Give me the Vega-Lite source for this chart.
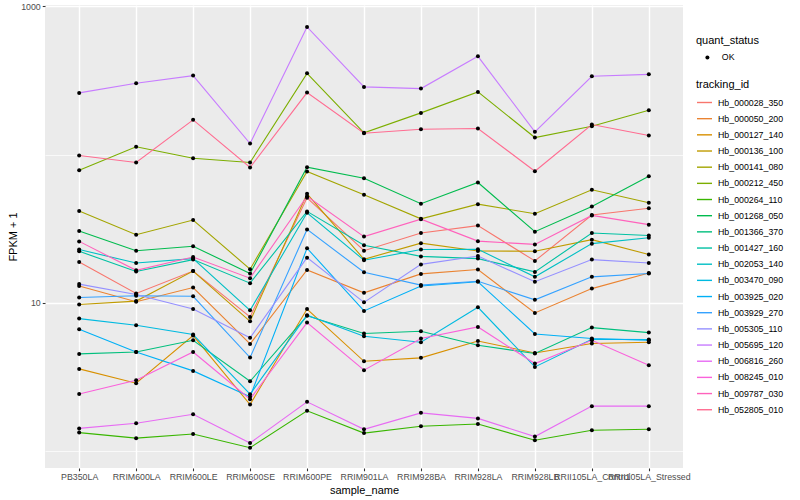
{
"$schema": "https://vega.github.io/schema/vega-lite/v6.json",
"width": 638, "height": 463,
"autosize": "none",
"padding": {"left": 45, "top": 5, "right": 117, "bottom": 32},
"background": "white",
"config": {
  "font": "Liberation Sans",
  "view": {"fill": "#EBEBEB", "stroke": null},
  "axis": {"domain": false, "grid": true, "gridColor": "white", "gridWidth": 1.4, "tickColor": "#333333", "tickSize": 2.75, "tickWidth": 1.07, "labelFontSize": 8.8, "labelColor": "#4D4D4D", "titleFontSize": 11, "titleFontWeight": "normal", "titleColor": "black"},
  "legend": {"titleFontSize": 11, "titleFontWeight": "normal", "titleColor": "black", "labelFontSize": 8.8, "labelColor": "black", "padding": 0}
},
"data": {"values": [
{"tracking_id":"Hb_000028_350","sample_name":"PB350LA","fpkm":18.9},{"tracking_id":"Hb_000028_350","sample_name":"RRIM600LA","fpkm":11.6},{"tracking_id":"Hb_000028_350","sample_name":"RRIM600LE","fpkm":16.4},{"tracking_id":"Hb_000028_350","sample_name":"RRIM600SE","fpkm":8.05},{"tracking_id":"Hb_000028_350","sample_name":"RRIM600PE","fpkm":51.1},{"tracking_id":"Hb_000028_350","sample_name":"RRIM901LA","fpkm":22.5},{"tracking_id":"Hb_000028_350","sample_name":"RRIM928BA","fpkm":29.6},{"tracking_id":"Hb_000028_350","sample_name":"RRIM928LA","fpkm":33.2},{"tracking_id":"Hb_000028_350","sample_name":"RRIM928LB","fpkm":19.2},{"tracking_id":"Hb_000028_350","sample_name":"RRII105LA_Control","fpkm":39.1},{"tracking_id":"Hb_000028_350","sample_name":"RRII105LA_Stressed","fpkm":43.5},
{"tracking_id":"Hb_000050_200","sample_name":"PB350LA","fpkm":13.0},{"tracking_id":"Hb_000050_200","sample_name":"RRIM600LA","fpkm":10.2},{"tracking_id":"Hb_000050_200","sample_name":"RRIM600LE","fpkm":12.7},{"tracking_id":"Hb_000050_200","sample_name":"RRIM600SE","fpkm":5.30},{"tracking_id":"Hb_000050_200","sample_name":"RRIM600PE","fpkm":16.7},{"tracking_id":"Hb_000050_200","sample_name":"RRIM901LA","fpkm":11.7},{"tracking_id":"Hb_000050_200","sample_name":"RRIM928BA","fpkm":15.7},{"tracking_id":"Hb_000050_200","sample_name":"RRIM928LA","fpkm":16.8},{"tracking_id":"Hb_000050_200","sample_name":"RRIM928LB","fpkm":8.57},{"tracking_id":"Hb_000050_200","sample_name":"RRII105LA_Control","fpkm":12.5},{"tracking_id":"Hb_000050_200","sample_name":"RRII105LA_Stressed","fpkm":15.9},
{"tracking_id":"Hb_000127_140","sample_name":"PB350LA","fpkm":3.60},{"tracking_id":"Hb_000127_140","sample_name":"RRIM600LA","fpkm":2.88},{"tracking_id":"Hb_000127_140","sample_name":"RRIM600LE","fpkm":6.03},{"tracking_id":"Hb_000127_140","sample_name":"RRIM600SE","fpkm":2.07},{"tracking_id":"Hb_000127_140","sample_name":"RRIM600PE","fpkm":9.11},{"tracking_id":"Hb_000127_140","sample_name":"RRIM901LA","fpkm":4.05},{"tracking_id":"Hb_000127_140","sample_name":"RRIM928BA","fpkm":4.27},{"tracking_id":"Hb_000127_140","sample_name":"RRIM928LA","fpkm":5.55},{"tracking_id":"Hb_000127_140","sample_name":"RRIM928LB","fpkm":4.61},{"tracking_id":"Hb_000127_140","sample_name":"RRII105LA_Control","fpkm":5.33},{"tracking_id":"Hb_000127_140","sample_name":"RRII105LA_Stressed","fpkm":5.44},
{"tracking_id":"Hb_000136_100","sample_name":"PB350LA","fpkm":9.76},{"tracking_id":"Hb_000136_100","sample_name":"RRIM600LA","fpkm":10.3},{"tracking_id":"Hb_000136_100","sample_name":"RRIM600LE","fpkm":16.4},{"tracking_id":"Hb_000136_100","sample_name":"RRIM600SE","fpkm":7.53},{"tracking_id":"Hb_000136_100","sample_name":"RRIM600PE","fpkm":54.4},{"tracking_id":"Hb_000136_100","sample_name":"RRIM901LA","fpkm":19.7},{"tracking_id":"Hb_000136_100","sample_name":"RRIM928BA","fpkm":25.3},{"tracking_id":"Hb_000136_100","sample_name":"RRIM928LA","fpkm":22.4},{"tracking_id":"Hb_000136_100","sample_name":"RRIM928LB","fpkm":22.3},{"tracking_id":"Hb_000136_100","sample_name":"RRII105LA_Control","fpkm":26.7},{"tracking_id":"Hb_000136_100","sample_name":"RRII105LA_Stressed","fpkm":21.2},
{"tracking_id":"Hb_000141_080","sample_name":"PB350LA","fpkm":41.6},{"tracking_id":"Hb_000141_080","sample_name":"RRIM600LA","fpkm":28.8},{"tracking_id":"Hb_000141_080","sample_name":"RRIM600LE","fpkm":36.2},{"tracking_id":"Hb_000141_080","sample_name":"RRIM600SE","fpkm":16.9},{"tracking_id":"Hb_000141_080","sample_name":"RRIM600PE","fpkm":76.9},{"tracking_id":"Hb_000141_080","sample_name":"RRIM901LA","fpkm":53.6},{"tracking_id":"Hb_000141_080","sample_name":"RRIM928BA","fpkm":36.9},{"tracking_id":"Hb_000141_080","sample_name":"RRIM928LA","fpkm":46.3},{"tracking_id":"Hb_000141_080","sample_name":"RRIM928LB","fpkm":39.9},{"tracking_id":"Hb_000141_080","sample_name":"RRII105LA_Control","fpkm":57.9},{"tracking_id":"Hb_000141_080","sample_name":"RRII105LA_Stressed","fpkm":47.3},
{"tracking_id":"Hb_000212_450","sample_name":"PB350LA","fpkm":78.4},{"tracking_id":"Hb_000212_450","sample_name":"RRIM600LA","fpkm":112.7},{"tracking_id":"Hb_000212_450","sample_name":"RRIM600LE","fpkm":94.4},{"tracking_id":"Hb_000212_450","sample_name":"RRIM600SE","fpkm":88.4},{"tracking_id":"Hb_000212_450","sample_name":"RRIM600PE","fpkm":352.1},{"tracking_id":"Hb_000212_450","sample_name":"RRIM901LA","fpkm":139.9},{"tracking_id":"Hb_000212_450","sample_name":"RRIM928BA","fpkm":190.7},{"tracking_id":"Hb_000212_450","sample_name":"RRIM928LA","fpkm":264.1},{"tracking_id":"Hb_000212_450","sample_name":"RRIM928LB","fpkm":130.1},{"tracking_id":"Hb_000212_450","sample_name":"RRII105LA_Control","fpkm":155.0},{"tracking_id":"Hb_000212_450","sample_name":"RRII105LA_Stressed","fpkm":198.6},
{"tracking_id":"Hb_000264_110","sample_name":"PB350LA","fpkm":1.34},{"tracking_id":"Hb_000264_110","sample_name":"RRIM600LA","fpkm":1.23},{"tracking_id":"Hb_000264_110","sample_name":"RRIM600LE","fpkm":1.31},{"tracking_id":"Hb_000264_110","sample_name":"RRIM600SE","fpkm":1.06},{"tracking_id":"Hb_000264_110","sample_name":"RRIM600PE","fpkm":1.88},{"tracking_id":"Hb_000264_110","sample_name":"RRIM901LA","fpkm":1.33},{"tracking_id":"Hb_000264_110","sample_name":"RRIM928BA","fpkm":1.48},{"tracking_id":"Hb_000264_110","sample_name":"RRIM928LA","fpkm":1.53},{"tracking_id":"Hb_000264_110","sample_name":"RRIM928LB","fpkm":1.19},{"tracking_id":"Hb_000264_110","sample_name":"RRII105LA_Control","fpkm":1.39},{"tracking_id":"Hb_000264_110","sample_name":"RRII105LA_Stressed","fpkm":1.41},
{"tracking_id":"Hb_001268_050","sample_name":"PB350LA","fpkm":30.5},{"tracking_id":"Hb_001268_050","sample_name":"RRIM600LA","fpkm":22.5},{"tracking_id":"Hb_001268_050","sample_name":"RRIM600LE","fpkm":24.1},{"tracking_id":"Hb_001268_050","sample_name":"RRIM600SE","fpkm":15.8},{"tracking_id":"Hb_001268_050","sample_name":"RRIM600PE","fpkm":82.2},{"tracking_id":"Hb_001268_050","sample_name":"RRIM901LA","fpkm":69.3},{"tracking_id":"Hb_001268_050","sample_name":"RRIM928BA","fpkm":46.6},{"tracking_id":"Hb_001268_050","sample_name":"RRIM928LA","fpkm":64.8},{"tracking_id":"Hb_001268_050","sample_name":"RRIM928LB","fpkm":30.2},{"tracking_id":"Hb_001268_050","sample_name":"RRII105LA_Control","fpkm":44.7},{"tracking_id":"Hb_001268_050","sample_name":"RRII105LA_Stressed","fpkm":71.5},
{"tracking_id":"Hb_001366_370","sample_name":"PB350LA","fpkm":4.54},{"tracking_id":"Hb_001366_370","sample_name":"RRIM600LA","fpkm":4.68},{"tracking_id":"Hb_001366_370","sample_name":"RRIM600LE","fpkm":5.61},{"tracking_id":"Hb_001366_370","sample_name":"RRIM600SE","fpkm":2.97},{"tracking_id":"Hb_001366_370","sample_name":"RRIM600PE","fpkm":8.20},{"tracking_id":"Hb_001366_370","sample_name":"RRIM901LA","fpkm":6.23},{"tracking_id":"Hb_001366_370","sample_name":"RRIM928BA","fpkm":6.45},{"tracking_id":"Hb_001366_370","sample_name":"RRIM928LA","fpkm":5.19},{"tracking_id":"Hb_001366_370","sample_name":"RRIM928LB","fpkm":4.57},{"tracking_id":"Hb_001366_370","sample_name":"RRII105LA_Control","fpkm":6.83},{"tracking_id":"Hb_001366_370","sample_name":"RRII105LA_Stressed","fpkm":6.32},
{"tracking_id":"Hb_001427_160","sample_name":"PB350LA","fpkm":22.3},{"tracking_id":"Hb_001427_160","sample_name":"RRIM600LA","fpkm":16.3},{"tracking_id":"Hb_001427_160","sample_name":"RRIM600LE","fpkm":19.6},{"tracking_id":"Hb_001427_160","sample_name":"RRIM600SE","fpkm":13.6},{"tracking_id":"Hb_001427_160","sample_name":"RRIM600PE","fpkm":41.4},{"tracking_id":"Hb_001427_160","sample_name":"RRIM901LA","fpkm":24.5},{"tracking_id":"Hb_001427_160","sample_name":"RRIM928BA","fpkm":20.6},{"tracking_id":"Hb_001427_160","sample_name":"RRIM928LA","fpkm":19.9},{"tracking_id":"Hb_001427_160","sample_name":"RRIM928LB","fpkm":16.2},{"tracking_id":"Hb_001427_160","sample_name":"RRII105LA_Control","fpkm":29.6},{"tracking_id":"Hb_001427_160","sample_name":"RRII105LA_Stressed","fpkm":28.5},
{"tracking_id":"Hb_002053_140","sample_name":"PB350LA","fpkm":22.9},{"tracking_id":"Hb_002053_140","sample_name":"RRIM600LA","fpkm":18.6},{"tracking_id":"Hb_002053_140","sample_name":"RRIM600LE","fpkm":19.9},{"tracking_id":"Hb_002053_140","sample_name":"RRIM600SE","fpkm":8.93},{"tracking_id":"Hb_002053_140","sample_name":"RRIM600PE","fpkm":40.5},{"tracking_id":"Hb_002053_140","sample_name":"RRIM901LA","fpkm":19.4},{"tracking_id":"Hb_002053_140","sample_name":"RRIM928BA","fpkm":22.9},{"tracking_id":"Hb_002053_140","sample_name":"RRIM928LA","fpkm":23.0},{"tracking_id":"Hb_002053_140","sample_name":"RRIM928LB","fpkm":15.0},{"tracking_id":"Hb_002053_140","sample_name":"RRII105LA_Control","fpkm":25.1},{"tracking_id":"Hb_002053_140","sample_name":"RRII105LA_Stressed","fpkm":27.5},
{"tracking_id":"Hb_003470_090","sample_name":"PB350LA","fpkm":7.85},{"tracking_id":"Hb_003470_090","sample_name":"RRIM600LA","fpkm":7.08},{"tracking_id":"Hb_003470_090","sample_name":"RRIM600LE","fpkm":6.13},{"tracking_id":"Hb_003470_090","sample_name":"RRIM600SE","fpkm":2.43},{"tracking_id":"Hb_003470_090","sample_name":"RRIM600PE","fpkm":8.27},{"tracking_id":"Hb_003470_090","sample_name":"RRIM901LA","fpkm":5.97},{"tracking_id":"Hb_003470_090","sample_name":"RRIM928BA","fpkm":5.44},{"tracking_id":"Hb_003470_090","sample_name":"RRIM928LA","fpkm":9.36},{"tracking_id":"Hb_003470_090","sample_name":"RRIM928LB","fpkm":3.71},{"tracking_id":"Hb_003470_090","sample_name":"RRII105LA_Control","fpkm":5.70},{"tracking_id":"Hb_003470_090","sample_name":"RRII105LA_Stressed","fpkm":5.67},
{"tracking_id":"Hb_003925_020","sample_name":"PB350LA","fpkm":6.65},{"tracking_id":"Hb_003925_020","sample_name":"RRIM600LA","fpkm":4.68},{"tracking_id":"Hb_003925_020","sample_name":"RRIM600LE","fpkm":3.49},{"tracking_id":"Hb_003925_020","sample_name":"RRIM600SE","fpkm":2.34},{"tracking_id":"Hb_003925_020","sample_name":"RRIM600PE","fpkm":23.4},{"tracking_id":"Hb_003925_020","sample_name":"RRIM901LA","fpkm":8.84},{"tracking_id":"Hb_003925_020","sample_name":"RRIM928BA","fpkm":13.0},{"tracking_id":"Hb_003925_020","sample_name":"RRIM928LA","fpkm":13.9},{"tracking_id":"Hb_003925_020","sample_name":"RRIM928LB","fpkm":6.19},{"tracking_id":"Hb_003925_020","sample_name":"RRII105LA_Control","fpkm":5.76},{"tracking_id":"Hb_003925_020","sample_name":"RRII105LA_Stressed","fpkm":5.61},
{"tracking_id":"Hb_003929_270","sample_name":"PB350LA","fpkm":10.9},{"tracking_id":"Hb_003929_270","sample_name":"RRIM600LA","fpkm":11.2},{"tracking_id":"Hb_003929_270","sample_name":"RRIM600LE","fpkm":11.1},{"tracking_id":"Hb_003929_270","sample_name":"RRIM600SE","fpkm":4.29},{"tracking_id":"Hb_003929_270","sample_name":"RRIM600PE","fpkm":31.3},{"tracking_id":"Hb_003929_270","sample_name":"RRIM901LA","fpkm":16.1},{"tracking_id":"Hb_003929_270","sample_name":"RRIM928BA","fpkm":13.2},{"tracking_id":"Hb_003929_270","sample_name":"RRIM928LA","fpkm":14.0},{"tracking_id":"Hb_003929_270","sample_name":"RRIM928LB","fpkm":10.5},{"tracking_id":"Hb_003929_270","sample_name":"RRII105LA_Control","fpkm":15.0},{"tracking_id":"Hb_003929_270","sample_name":"RRII105LA_Stressed","fpkm":15.8},
{"tracking_id":"Hb_005305_110","sample_name":"PB350LA","fpkm":13.4},{"tracking_id":"Hb_005305_110","sample_name":"RRIM600LA","fpkm":11.4},{"tracking_id":"Hb_005305_110","sample_name":"RRIM600LE","fpkm":9.11},{"tracking_id":"Hb_005305_110","sample_name":"RRIM600SE","fpkm":5.83},{"tracking_id":"Hb_005305_110","sample_name":"RRIM600PE","fpkm":20.2},{"tracking_id":"Hb_005305_110","sample_name":"RRIM901LA","fpkm":10.1},{"tracking_id":"Hb_005305_110","sample_name":"RRIM928BA","fpkm":18.2},{"tracking_id":"Hb_005305_110","sample_name":"RRIM928LA","fpkm":20.7},{"tracking_id":"Hb_005305_110","sample_name":"RRIM928LB","fpkm":13.9},{"tracking_id":"Hb_005305_110","sample_name":"RRII105LA_Control","fpkm":19.6},{"tracking_id":"Hb_005305_110","sample_name":"RRII105LA_Stressed","fpkm":18.6},
{"tracking_id":"Hb_005695_120","sample_name":"PB350LA","fpkm":259.9},{"tracking_id":"Hb_005695_120","sample_name":"RRIM600LA","fpkm":301.7},{"tracking_id":"Hb_005695_120","sample_name":"RRIM600LE","fpkm":339.9},{"tracking_id":"Hb_005695_120","sample_name":"RRIM600SE","fpkm":118.6},{"tracking_id":"Hb_005695_120","sample_name":"RRIM600PE","fpkm":722.5},{"tracking_id":"Hb_005695_120","sample_name":"RRIM901LA","fpkm":285.3},{"tracking_id":"Hb_005695_120","sample_name":"RRIM928BA","fpkm":277.9},{"tracking_id":"Hb_005695_120","sample_name":"RRIM928LA","fpkm":458.3},{"tracking_id":"Hb_005695_120","sample_name":"RRIM928LB","fpkm":142.1},{"tracking_id":"Hb_005695_120","sample_name":"RRII105LA_Control","fpkm":336.2},{"tracking_id":"Hb_005695_120","sample_name":"RRII105LA_Stressed","fpkm":346.7},
{"tracking_id":"Hb_006816_260","sample_name":"PB350LA","fpkm":1.43},{"tracking_id":"Hb_006816_260","sample_name":"RRIM600LA","fpkm":1.55},{"tracking_id":"Hb_006816_260","sample_name":"RRIM600LE","fpkm":1.78},{"tracking_id":"Hb_006816_260","sample_name":"RRIM600SE","fpkm":1.14},{"tracking_id":"Hb_006816_260","sample_name":"RRIM600PE","fpkm":2.16},{"tracking_id":"Hb_006816_260","sample_name":"RRIM901LA","fpkm":1.41},{"tracking_id":"Hb_006816_260","sample_name":"RRIM928BA","fpkm":1.82},{"tracking_id":"Hb_006816_260","sample_name":"RRIM928LA","fpkm":1.67},{"tracking_id":"Hb_006816_260","sample_name":"RRIM928LB","fpkm":1.26},{"tracking_id":"Hb_006816_260","sample_name":"RRII105LA_Control","fpkm":2.02},{"tracking_id":"Hb_006816_260","sample_name":"RRII105LA_Stressed","fpkm":2.02},
{"tracking_id":"Hb_008245_010","sample_name":"PB350LA","fpkm":2.44},{"tracking_id":"Hb_008245_010","sample_name":"RRIM600LA","fpkm":3.02},{"tracking_id":"Hb_008245_010","sample_name":"RRIM600LE","fpkm":4.68},{"tracking_id":"Hb_008245_010","sample_name":"RRIM600SE","fpkm":2.25},{"tracking_id":"Hb_008245_010","sample_name":"RRIM600PE","fpkm":7.38},{"tracking_id":"Hb_008245_010","sample_name":"RRIM901LA","fpkm":3.53},{"tracking_id":"Hb_008245_010","sample_name":"RRIM928BA","fpkm":5.76},{"tracking_id":"Hb_008245_010","sample_name":"RRIM928LA","fpkm":6.90},{"tracking_id":"Hb_008245_010","sample_name":"RRIM928LB","fpkm":3.91},{"tracking_id":"Hb_008245_010","sample_name":"RRII105LA_Control","fpkm":5.61},{"tracking_id":"Hb_008245_010","sample_name":"RRII105LA_Stressed","fpkm":3.81},
{"tracking_id":"Hb_009787_030","sample_name":"PB350LA","fpkm":26.0},{"tracking_id":"Hb_009787_030","sample_name":"RRIM600LA","fpkm":16.6},{"tracking_id":"Hb_009787_030","sample_name":"RRIM600LE","fpkm":20.4},{"tracking_id":"Hb_009787_030","sample_name":"RRIM600SE","fpkm":14.7},{"tracking_id":"Hb_009787_030","sample_name":"RRIM600PE","fpkm":52.4},{"tracking_id":"Hb_009787_030","sample_name":"RRIM901LA","fpkm":28.0},{"tracking_id":"Hb_009787_030","sample_name":"RRIM928BA","fpkm":36.7},{"tracking_id":"Hb_009787_030","sample_name":"RRIM928LA","fpkm":26.1},{"tracking_id":"Hb_009787_030","sample_name":"RRIM928LB","fpkm":24.8},{"tracking_id":"Hb_009787_030","sample_name":"RRII105LA_Control","fpkm":38.9},{"tracking_id":"Hb_009787_030","sample_name":"RRII105LA_Stressed","fpkm":33.7},
{"tracking_id":"Hb_052805_010","sample_name":"PB350LA","fpkm":98.5},{"tracking_id":"Hb_052805_010","sample_name":"RRIM600LA","fpkm":88.4},{"tracking_id":"Hb_052805_010","sample_name":"RRIM600LE","fpkm":171.2},{"tracking_id":"Hb_052805_010","sample_name":"RRIM600SE","fpkm":81.8},{"tracking_id":"Hb_052805_010","sample_name":"RRIM600PE","fpkm":261.2},{"tracking_id":"Hb_052805_010","sample_name":"RRIM901LA","fpkm":139.1},{"tracking_id":"Hb_052805_010","sample_name":"RRIM928BA","fpkm":148.0},{"tracking_id":"Hb_052805_010","sample_name":"RRIM928LA","fpkm":149.6},{"tracking_id":"Hb_052805_010","sample_name":"RRIM928LB","fpkm":77.2},{"tracking_id":"Hb_052805_010","sample_name":"RRII105LA_Control","fpkm":159.1},{"tracking_id":"Hb_052805_010","sample_name":"RRII105LA_Stressed","fpkm":134.2}
]},
"encoding": {
  "x": {"field": "sample_name", "type": "nominal",
        "sort": ["PB350LA","RRIM600LA","RRIM600LE","RRIM600SE","RRIM600PE","RRIM901LA","RRIM928BA","RRIM928LA","RRIM928LB","RRII105LA_Control","RRII105LA_Stressed"],
        "scale": {"type": "point", "padding": 0.6},
        "axis": {"title": "sample_name", "labelAngle": 0, "labelPadding": 2, "titlePadding": 3, "labelOverlap": false, "labelBound": false}},
  "y": {"field": "fpkm", "type": "quantitative",
        "scale": {"type": "log", "domain": [0.774, 1016], "nice": false, "zero": false},
        "axis": {"title": "FPKM + 1", "values": [1, 10, 100, 1000], "labelPadding": 2, "titlePadding": 2,
                 "labelExpr": "datum.value == 10 ? '10' : (datum.value == 1000 ? '1000' : '')",
                 "tickOpacity": {"condition": {"test": "datum.value == 1 || datum.value == 100", "value": 0}, "value": 1},
                 "gridWidth": {"condition": {"test": "datum.value == 1 || datum.value == 100", "value": 0.7}, "value": 1.4}}}
},
"layer": [
  {"mark": {"type": "line", "strokeWidth": 1.1},
   "encoding": {"color": {"field": "tracking_id", "type": "nominal",
     "scale": {"range": ["#F8766D","#EA8331","#D89000","#C09B00","#A3A500","#7CAE00","#39B600","#00BB4E","#00BF7D","#00C1A3","#00BFC4","#00BAE0","#00B0F6","#35A2FF","#9590FF","#C77CFF","#E76BF3","#FA62DB","#FF62BC","#FF6C91"]},
     "legend": {"orient": "none", "legendX": 651, "legendY": 74, "title": "tracking_id", "symbolType": "stroke", "symbolSize": 225, "symbolStrokeWidth": 1.4, "rowPadding": 2.17, "labelOffset": 5, "titlePadding": 4}}}},
  {"mark": {"type": "point", "filled": true, "size": 16, "color": "black", "opacity": 1},
   "encoding": {"shape": {"datum": "OK", "type": "nominal", "scale": {"range": ["circle"]},
     "legend": {"orient": "none", "legendX": 651, "legendY": 30, "title": "quant_status", "symbolSize": 16, "symbolOffset": 7, "labelOffset": 10, "titlePadding": 7}}}}
]
}
